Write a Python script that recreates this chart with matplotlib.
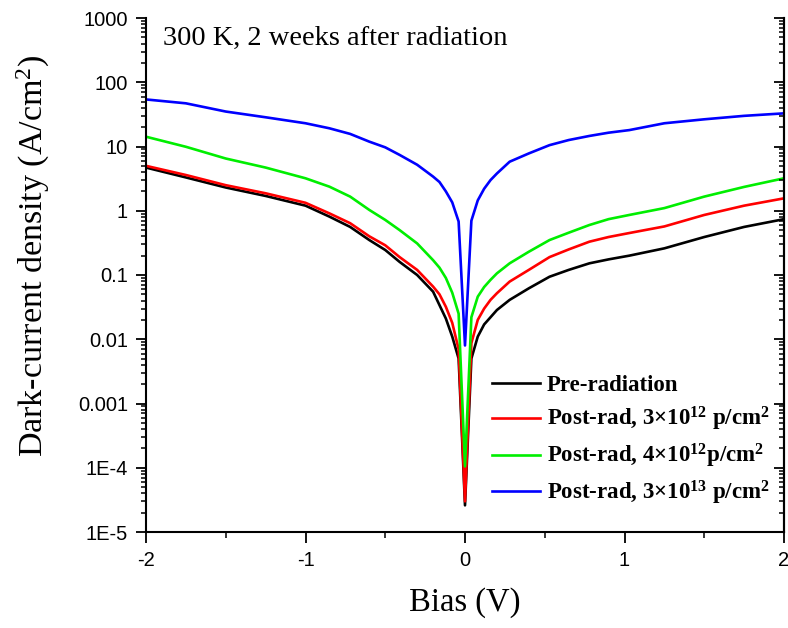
import matplotlib
matplotlib.use("Agg")
import matplotlib.pyplot as plt
from matplotlib.ticker import FixedLocator, FuncFormatter, LogLocator, NullFormatter

# ---- data ----
bias = [-2.0, -1.75, -1.5, -1.25, -1.0, -0.85, -0.72, -0.6, -0.5, -0.41, -0.3, -0.2, -0.16, -0.12,
        -0.08, -0.04, 0.0, 0.04, 0.08, 0.12, 0.16, 0.2, 0.28, 0.4, 0.53, 0.65, 0.78, 0.9, 1.03,
        1.25, 1.5, 1.75, 2.0]

pre_rad = [4.7, 3.3, 2.3, 1.7, 1.2, 0.81, 0.56, 0.35, 0.245, 0.16, 0.10, 0.055, 0.034, 0.021,
           0.011, 0.005, 2.6e-5, 0.005, 0.011, 0.017, 0.022, 0.0285, 0.041, 0.062, 0.094, 0.12,
           0.152, 0.175, 0.20, 0.26, 0.39, 0.56, 0.74]
post_3e12 = [5.0, 3.6, 2.5, 1.87, 1.33, 0.91, 0.64, 0.40, 0.29, 0.19, 0.12, 0.066, 0.05, 0.032,
             0.018, 0.007, 3.0e-5, 0.0087, 0.02, 0.030, 0.041, 0.052, 0.079, 0.12, 0.19, 0.25,
             0.33, 0.39, 0.45, 0.57, 0.86, 1.2, 1.56]
post_4e12 = [14.2, 9.9, 6.5, 4.7, 3.2, 2.37, 1.66, 1.03, 0.72, 0.50, 0.31, 0.17, 0.13, 0.09,
             0.053, 0.025, 1.05e-4, 0.022, 0.046, 0.065, 0.084, 0.106, 0.152, 0.23, 0.35, 0.455,
             0.60, 0.74, 0.86, 1.1, 1.66, 2.35, 3.2]
post_3e13 = [54, 47, 35, 28.5, 23, 19.2, 15.7, 11.9, 9.7, 7.4, 5.2, 3.4, 2.8, 2.0,
             1.35, 0.68, 0.008, 0.70, 1.45, 2.2, 3.0, 3.8, 5.8, 7.8, 10.5, 12.6,
             14.6, 16.4, 18, 23, 26.5, 30, 32.8]

series_labels = ["Pre-radiation",
                 "Post-rad, 3×10$^{\\mathbf{12}}$ p/cm$^{\\mathbf{2}}$",
                 "Post-rad, 4×10$^{\\mathbf{12}}$p/cm$^{\\mathbf{2}}$",
                 "Post-rad, 3×10$^{\\mathbf{13}}$ p/cm$^{\\mathbf{2}}$"]
series_colors = ["#000000", "#ff0000", "#00ee00", "#0000ff"]

y_ticks = [1e-5, 1e-4, 1e-3, 1e-2, 1e-1, 1, 10, 100, 1000]
y_tick_labels = ["1E-5", "1E-4", "0.001", "0.01", "0.1", "1", "10", "100", "1000"]
x_ticks = [-2, -1, 0, 1, 2]
x_tick_labels = ["-2", "-1", "0", "1", "2"]

plt.rcParams['mathtext.fontset'] = 'custom'
plt.rcParams['mathtext.rm'] = 'Liberation Serif'
plt.rcParams['mathtext.bf'] = 'Liberation Serif:bold'
plt.rcParams['mathtext.it'] = 'Liberation Serif:italic'

fig = plt.figure(figsize=(7.88, 6.28), dpi=100)
ax = fig.add_axes([146/788, 1-532/628, (784-146)/788, (532-18)/628])

for vals, lab, col in zip([pre_rad, post_3e12, post_4e12, post_3e13], series_labels, series_colors):
    ax.plot(bias, vals, color=col, lw=1.9, label=lab)

ax.set_yscale('log')
ax.set_ylim(1e-5, 1000)
ax.set_xlim(-2, 2)

ax.yaxis.set_major_locator(FixedLocator(y_ticks))
ax.yaxis.set_major_formatter(FuncFormatter(lambda v, p: dict(zip(y_ticks, y_tick_labels)).get(v, "")))
ax.yaxis.set_minor_locator(LogLocator(base=10, subs=range(2, 10), numticks=20))
ax.yaxis.set_minor_formatter(NullFormatter())
ax.xaxis.set_major_locator(FixedLocator(x_ticks))
ax.set_xticklabels(x_tick_labels)
ax.xaxis.set_minor_locator(FixedLocator([-1.5, -0.5, 0.5, 1.5]))

for lab in ax.get_xticklabels() + ax.get_yticklabels():
    lab.set_fontfamily('Liberation Sans')
    lab.set_fontsize(14.5)

ax.tick_params(axis='both', which='major', direction='out', length=7, width=1.3, pad=6)
ax.tick_params(axis='both', which='minor', direction='out', length=3.5, width=1.1)
ax.tick_params(axis='x', which='major', length=8, pad=6)
ax.tick_params(axis='x', which='minor', length=4.5)
ax.spines['top'].set_visible(False)
for s in ['left', 'bottom', 'right']:
    ax.spines[s].set_linewidth(1.5)

ax2 = ax.twinx()
ax2.set_yscale('log')
ax2.set_ylim(1e-5, 1000)
ax2.yaxis.set_major_locator(FixedLocator(y_ticks))
ax2.yaxis.set_minor_locator(LogLocator(base=10, subs=range(2, 10), numticks=20))
ax2.yaxis.set_major_formatter(NullFormatter())
ax2.yaxis.set_minor_formatter(NullFormatter())
ax2.tick_params(axis='y', which='major', direction='in', length=7, width=1.3)
ax2.tick_params(axis='y', which='minor', direction='in', length=3.5, width=1.1)
for s in ['left', 'bottom', 'top']:
    ax2.spines[s].set_visible(False)
ax2.spines['right'].set_linewidth(1.5)

ax.set_xlabel("Bias (V)", fontfamily='Liberation Serif', fontsize=23.5, labelpad=12)
fig.text(33/788, 1-256/628, "Dark-current density (A/cm$^2$)", rotation=90,
         ha='center', va='center', fontfamily='Liberation Serif', fontsize=24.5)

ax.text(0.027, 0.947, "300 K, 2 weeks after radiation", transform=ax.transAxes,
        fontfamily='Liberation Serif', fontsize=20.5, va='baseline', ha='left')

leg = ax.legend(loc='upper left', bbox_to_anchor=(0.542, 0.305), frameon=False,
                prop={'family': 'Liberation Serif', 'weight': 'bold', 'size': 16.5},
                handlelength=2.1, handletextpad=0.3, labelspacing=0.38, borderpad=0,
                borderaxespad=0)

fig.savefig("out.png", dpi=100)
